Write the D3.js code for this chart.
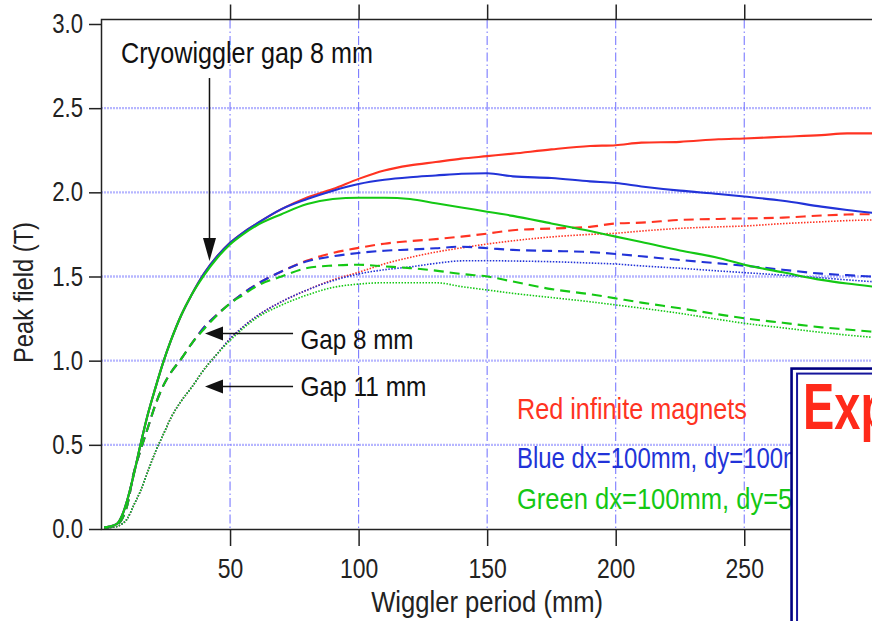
<!DOCTYPE html>
<html><head><meta charset="utf-8">
<script src="https://cdn.jsdelivr.net/npm/d3@7"></script>
<style>body{margin:0;background:#fff} svg{display:block}</style>
</head><body>
<svg id="chart" width="872" height="621"></svg>
<script>
// ---- data ----
const periods = [1, 3, 6, 8, 10, 12.5, 15, 18, 21, 24, 27, 31, 35, 40, 45, 50, 55, 60, 70, 80, 90, 100, 110, 120, 130, 140, 150, 160, 175, 190, 200, 210, 225, 240, 250, 265, 280, 290, 300];

// Cryowiggler gap 8 mm (solid)
const cryoRed   = [0.01,0.015,0.03,0.08,0.17,0.32,0.49,0.68,0.84,0.99,1.12,1.27,1.39,1.52,1.62,1.70,1.76,1.81,1.90,1.97,2.02,2.08,2.13,2.16,2.18,2.20,2.215,2.23,2.255,2.275,2.28,2.295,2.30,2.315,2.32,2.33,2.34,2.35,2.35];
const cryoBlue  = [0.01,0.015,0.03,0.08,0.17,0.32,0.49,0.68,0.84,0.99,1.12,1.27,1.39,1.52,1.62,1.70,1.76,1.81,1.90,1.96,2.01,2.05,2.075,2.09,2.10,2.11,2.113,2.095,2.085,2.065,2.055,2.035,2.01,1.99,1.975,1.95,1.915,1.895,1.878];
const cryoGreen = [0.01,0.015,0.03,0.08,0.17,0.32,0.49,0.68,0.84,0.99,1.12,1.27,1.39,1.51,1.61,1.69,1.75,1.80,1.87,1.93,1.96,1.968,1.968,1.96,1.935,1.91,1.885,1.86,1.815,1.77,1.737,1.705,1.655,1.61,1.57,1.525,1.48,1.458,1.44];

// Gap 8 mm (dashed)
const gap8Red   = [0.005,0.01,0.025,0.06,0.14,0.33,0.46,0.60,0.74,0.85,0.93,1.01,1.10,1.20,1.275,1.34,1.40,1.45,1.53,1.595,1.64,1.67,1.695,1.71,1.722,1.737,1.755,1.775,1.785,1.795,1.815,1.82,1.836,1.842,1.845,1.85,1.862,1.868,1.87];
const gap8Blue  = [0.005,0.01,0.025,0.06,0.14,0.33,0.46,0.60,0.74,0.85,0.93,1.01,1.10,1.20,1.275,1.34,1.40,1.45,1.53,1.59,1.62,1.64,1.653,1.66,1.668,1.677,1.668,1.658,1.652,1.645,1.634,1.62,1.598,1.578,1.564,1.54,1.517,1.508,1.499];
const gap8Green = [0.005,0.01,0.025,0.06,0.14,0.33,0.46,0.60,0.74,0.85,0.93,1.01,1.10,1.19,1.27,1.34,1.39,1.44,1.50,1.55,1.565,1.57,1.56,1.55,1.535,1.515,1.50,1.47,1.425,1.395,1.37,1.345,1.311,1.275,1.252,1.225,1.198,1.185,1.172];

// Gap 11 mm (dotted)
const gap11Red   = [0.003,0.008,0.015,0.03,0.06,0.14,0.22,0.34,0.46,0.56,0.66,0.76,0.84,0.95,1.04,1.13,1.20,1.26,1.35,1.42,1.48,1.525,1.575,1.613,1.645,1.67,1.693,1.712,1.735,1.75,1.757,1.77,1.786,1.795,1.80,1.814,1.825,1.832,1.836];
const gap11Blue  = [0.003,0.008,0.015,0.03,0.06,0.14,0.22,0.34,0.46,0.56,0.66,0.76,0.84,0.95,1.04,1.13,1.20,1.26,1.35,1.42,1.475,1.515,1.54,1.557,1.578,1.593,1.594,1.592,1.588,1.58,1.574,1.563,1.549,1.533,1.523,1.508,1.492,1.48,1.469];
const gap11Green = [0.003,0.008,0.015,0.03,0.06,0.14,0.22,0.34,0.46,0.56,0.66,0.76,0.84,0.95,1.04,1.12,1.19,1.25,1.33,1.39,1.435,1.455,1.463,1.463,1.463,1.44,1.42,1.40,1.375,1.35,1.331,1.312,1.281,1.245,1.222,1.195,1.168,1.152,1.139];

const xTickValues = [50, 100, 150, 200, 250];
const yTickValues = [0, 0.5, 1.0, 1.5, 2.0, 2.5, 3.0];
const yGridValues = [0.5, 1.0, 1.5, 2.0, 2.5];

const legendLabels = ["Red infinite magnets", "Blue dx=100mm, dy=100mm", "Green dx=100mm, dy=50mm"];
const seriesColors = ["#ff3322", "#2233d8", "#14c814"];

// ---- setup ----
const svg = d3.select("#chart");
const W = 872, H = 621;
const x = d3.scaleLinear().domain([0, 300]).range([101.5, 872.8]);
const y = d3.scaleLinear().domain([0, 3.0267]).range([529, 19.5]);
const FONT = "'Liberation Sans', Arial, sans-serif";

svg.append("rect").attr("width", W).attr("height", H).attr("fill", "#fff");

// grid
const grid = svg.append("g");
grid.selectAll("line.h").data(yGridValues).join("line")
  .attr("x1", x(0)).attr("x2", x(300))
  .attr("y1", d => y(d)).attr("y2", d => y(d))
  .attr("stroke", "#6f6fff").attr("stroke-width", 2.4)
  .attr("stroke-dasharray", "1,2");
grid.selectAll("line.v").data(xTickValues).join("line")
  .attr("x1", d => x(d)).attr("x2", d => x(d))
  .attr("y1", y.range()[1]).attr("y2", y.range()[0])
  .attr("stroke", "#7b7bff").attr("stroke-width", 1.1)
  .attr("stroke-dasharray", "9,3,1.5,3");

// lines
const line = d3.line().x((d, i) => x(periods[i])).y(d => y(d)).curve(d3.curveMonotoneX);
const seriesDefs = [
  {v: gap11Red, c: 0, s: "dot"}, {v: gap11Blue, c: 1, s: "dot"}, {v: gap11Green, c: 2, s: "dot"},
  {v: gap8Red, c: 0, s: "dash"}, {v: gap8Blue, c: 1, s: "dash"}, {v: gap8Green, c: 2, s: "dash"},
  {v: cryoRed, c: 0, s: "solid"}, {v: cryoBlue, c: 1, s: "solid"}, {v: cryoGreen, c: 2, s: "solid"}
];
svg.append("g").selectAll("path").data(seriesDefs).join("path")
  .attr("d", d => line(d.v))
  .attr("fill", "none")
  .attr("stroke", d => seriesColors[d.c])
  .attr("stroke-width", d => d.s === "dot" ? 1.6 : 2.1)
  .attr("stroke-dasharray", d => d.s === "dot" ? "1.5,1.5" : d.s === "dash" ? "10,6" : null);

// frame
svg.append("rect")
  .attr("x", x(0)).attr("y", y.range()[1])
  .attr("width", x(300) - x(0)).attr("height", y.range()[0] + 0.5 - y.range()[1])
  .attr("fill", "none").attr("stroke", "#222").attr("stroke-width", 1.5);

function narrow(sel, ratio) {
  sel.each(function () {
    const L = this.getComputedTextLength();
    d3.select(this).attr("textLength", L * ratio).attr("lengthAdjust", "spacingAndGlyphs");
  });
}

// axes
const yAxis = svg.append("g").attr("transform", `translate(${x(0)},0)`)
  .call(d3.axisLeft(y).tickValues(yTickValues).tickSize(12.5).tickPadding(6).tickFormat(d3.format(".1f")));
const xAxis = svg.append("g").attr("transform", `translate(0,${y(0) + 0.5})`)
  .call(d3.axisBottom(x).tickValues(xTickValues).tickSize(16.5).tickPadding(12.5).tickFormat(d3.format("d")));
const topAxis = svg.append("g").attr("transform", `translate(0,${y.range()[1]})`)
  .call(d3.axisTop(x).tickValues(xTickValues).tickSize(15).tickFormat(""));
[yAxis, xAxis, topAxis].forEach(g => {
  g.select(".domain").remove();
  g.selectAll(".tick line").attr("stroke", "#222").attr("stroke-width", 1.5);
  g.selectAll("text").attr("fill", "#222").style("font-family", FONT).style("font-size", "27px");
});
narrow(yAxis.selectAll("text"), 0.82);
narrow(xAxis.selectAll("text"), 0.85);

// axis titles
svg.append("text").text("Wiggler period (mm)")
  .attr("x", (x(0) + x(300)) / 2).attr("y", 612).attr("text-anchor", "middle")
  .style("font-family", FONT).style("font-size", "29px").attr("fill", "#222")
  .attr("textLength", 232).attr("lengthAdjust", "spacingAndGlyphs");
svg.append("text").text("Peak field (T)")
  .attr("transform", `translate(33,${y(1.405)}) rotate(-90)`)
  .attr("text-anchor", "middle")
  .style("font-family", FONT).style("font-size", "28px").attr("fill", "#222")
  .attr("textLength", 141).attr("lengthAdjust", "spacingAndGlyphs");

// annotations
const ann = svg.append("g").attr("fill", "#111").style("font-family", FONT);
ann.append("text").text("Cryowiggler gap 8 mm")
  .attr("x", x(7.6)).attr("y", y(2.768)).style("font-size", "29px")
  .attr("textLength", 252).attr("lengthAdjust", "spacingAndGlyphs");
ann.append("text").text("Gap 8 mm")
  .attr("x", x(77.4)).attr("y", y(1.072)).style("font-size", "28px")
  .attr("textLength", 113).attr("lengthAdjust", "spacingAndGlyphs");
ann.append("text").text("Gap 11 mm")
  .attr("x", x(77.4)).attr("y", y(0.79)).style("font-size", "28px")
  .attr("textLength", 126).attr("lengthAdjust", "spacingAndGlyphs");

// vertical arrow (Cryowiggler)
const ax = x(42.0), aTop = y(2.679), aTip = y(1.592);
ann.append("line").attr("x1", ax).attr("x2", ax).attr("y1", aTop).attr("y2", aTip - 18)
  .attr("stroke", "#111").attr("stroke-width", 1.5);
ann.append("path").attr("d", `M${ax - 6.5},${aTip - 23} L${ax + 6.5},${aTip - 23} L${ax},${aTip} Z`);
// horizontal arrows
[[1.161], [0.8466]].forEach(([yy]) => {
  const py = y(yy), tip = x(40.26), start = x(74.5);
  ann.append("line").attr("x1", start).attr("x2", tip + 14).attr("y1", py).attr("y2", py)
    .attr("stroke", "#111").attr("stroke-width", 1.5);
  ann.append("path").attr("d", `M${tip + 18},${py - 7} L${tip + 18},${py + 7} L${tip},${py} Z`);
});

// legend text
const legendY = [0.653, 0.362, 0.119];
const legendW = [230, 306, 332];
svg.append("g").selectAll("text").data(legendLabels).join("text")
  .text(d => d)
  .attr("x", x(161.6)).attr("y", (d, i) => y(legendY[i]))
  .attr("fill", (d, i) => seriesColors[i])
  .style("font-family", FONT).style("font-size", "29px")
  .attr("textLength", (d, i) => legendW[i]).attr("lengthAdjust", "spacingAndGlyphs");

// overlay box on the right
const bx = x(268.4), by = y(0.953);
svg.append("rect").attr("x", bx).attr("y", by).attr("width", 200).attr("height", 400)
  .attr("fill", "#fff").attr("stroke", "#000080").attr("stroke-width", 2.6);
svg.append("rect").attr("x", bx + 5.5).attr("y", by + 5).attr("width", 200).attr("height", 400)
  .attr("fill", "none").attr("stroke", "#16169c").attr("stroke-width", 2);
svg.append("text").text("Exp")
  .attr("x", bx + 11.5).attr("y", y(0.594))
  .attr("fill", "#ff2a1a").style("font-family", FONT).style("font-weight", "bold").style("font-size", "64px")
  .attr("textLength", 86).attr("lengthAdjust", "spacingAndGlyphs");
</script>
</body></html>
